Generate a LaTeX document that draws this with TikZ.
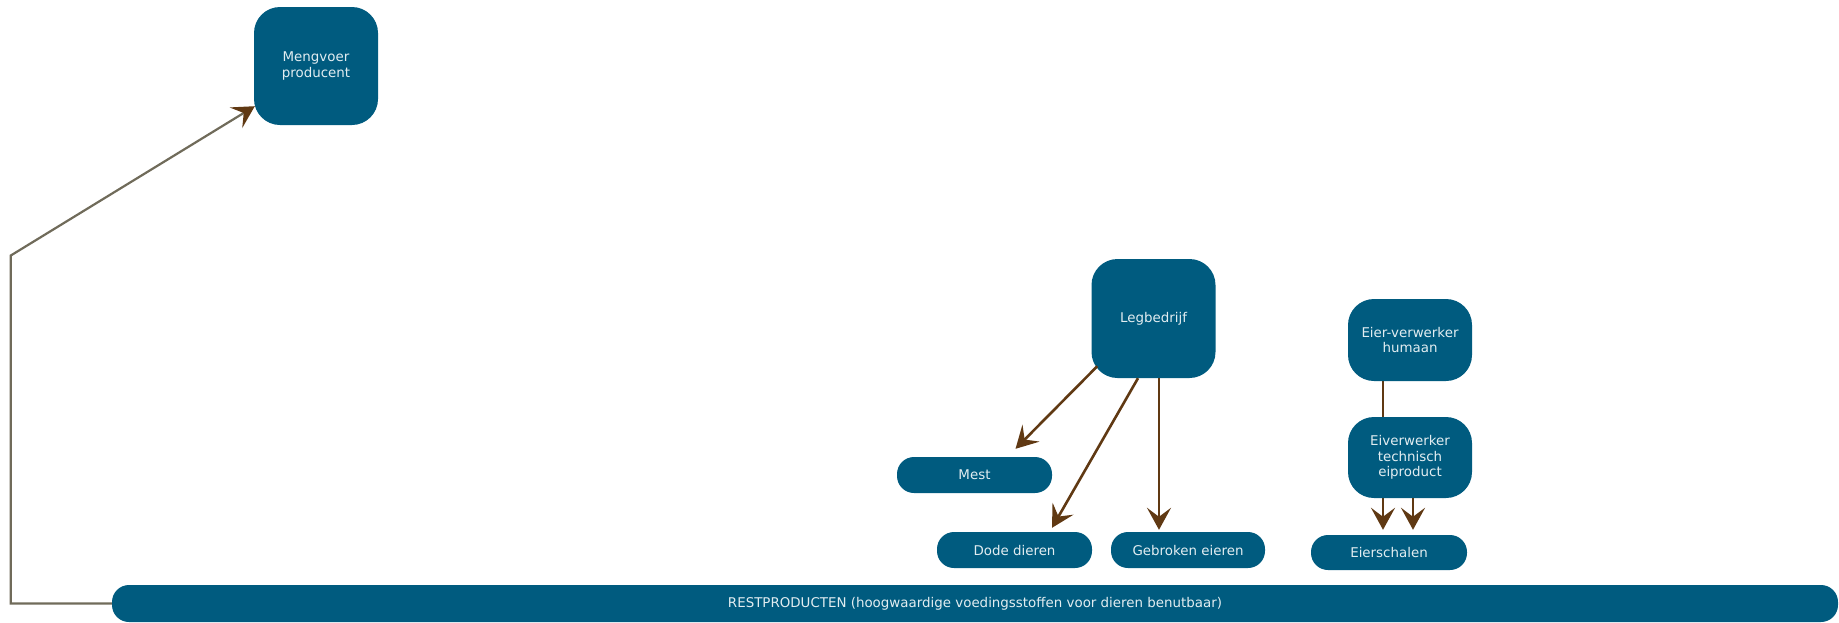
\documentclass[tikz,border=0pt]{standalone}
\usepackage{fontspec}
\setmainfont{DejaVu Sans}
\usetikzlibrary{arrows.meta,backgrounds}
\definecolor{boxblue}{RGB}{0,91,127}
\definecolor{boxtext}{RGB}{226,237,241}
\definecolor{arrbrown}{RGB}{96,57,19}
\definecolor{linegrey}{RGB}{112,107,90}

\begin{document}
\begin{tikzpicture}[
			x=1pt, y=-1pt,
			font=\fontsize{13.4}{15.7}\selectfont,
			main/.style = {fill=boxblue, text=boxtext, rounded corners=26pt, align=center, minimum width=124pt, inner sep=0pt},
			pill/.style = {fill=boxblue, text=boxtext, rounded corners=17pt, minimum height=36pt, inner sep=0pt},
			flow/.style = {draw=arrbrown, line width=2.6pt, -{Stealth[length=22pt,width=24pt,inset=9pt]}},
			feed/.style = {draw=linegrey, line width=2.2pt, -{Stealth[length=22pt,width=24pt,inset=9pt,color=arrbrown]}},
			]
			\useasboundingbox (0,0) rectangle (1839,622);
			\node[main, minimum height=118pt] (meng) at (316,66) {Mengvoer\\producent};
			\node[main, minimum height=119pt] (leg) at (1153.5,318.5) {Legbedrijf};
			\node[main, minimum height=82pt] (humaan) at (1410,340) {Eier-verwerker\\humaan};
			\node[main, minimum height=81pt] (techn) at (1410,457.5) {Eiverwerker\\technisch\\eiproduct};
			\node[pill, minimum width=155pt] (mest) at (974.5,475) {Mest};
			\node[pill, minimum width=155pt] (dode) at (1014.5,550) {Dode dieren};
			\node[pill, minimum width=154pt] (gebroken) at (1188,550) {Gebroken eieren};
			\node[pill, minimum width=156pt, minimum height=35pt] (schalen) at (1389,552.5) {Eierschalen};
			\node[pill, minimum width=1726pt, minimum height=37pt] (rest) at (975,603.5) {RESTPRODUCTEN (hoogwaardige voedingsstoffen voor dieren benutbaar)};
			% legbedrijf
			\draw[flow] ([shift={(6,-12)}]leg.south west) -- ([shift={(41,-8)}]mest.north);
			\draw[flow] ([xshift=-15.5pt]leg.south) -- ([shift={(37.5,-4)}]dode.north);
			\draw[flow] ([xshift=5.5pt]leg.south) -- ([shift={(-29,-2)}]gebroken.north);
			% eiverwerkers
			\begin{scope}[on background layer]
				\draw[flow] ([xshift=-27pt]humaan.south) -- ([shift={(-6,-5)}]schalen.north);
			\end{scope}
			\draw[flow] ([xshift=3pt]techn.south) -- ([shift={(24,-5)}]schalen.north);
			% terug naar mengvoer
			\draw[feed] (rest.west) -- ++(-101,0) -- ++(0,-348) -- ([shift={(1,-19)}]meng.south west);
		\end{tikzpicture}
\end{document}
